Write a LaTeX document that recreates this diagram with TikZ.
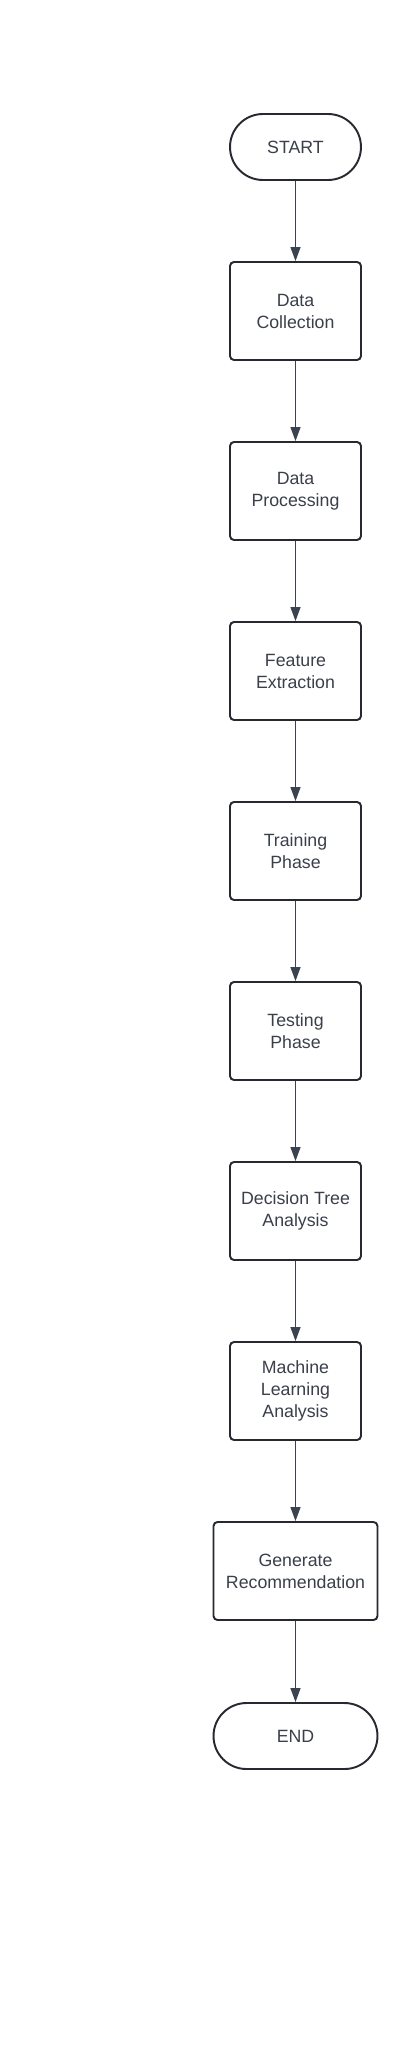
\documentclass[tikz,border=0pt]{standalone}
\usepackage{fontspec}
\setmainfont{Liberation Sans}
\usepackage{xcolor}
\usetikzlibrary{arrows.meta}

\definecolor{txtgray}{HTML}{3A3F4A}
\definecolor{edgegray}{HTML}{262A30}
\definecolor{linegray}{HTML}{3B4250}

\tikzset{
    stepbox/.style={draw=edgegray, line width=1.1pt, rounded corners=0.08cm,
        minimum width=2.62cm, minimum height=1.96cm, align=center,
        text=txtgray, font=\fontsize{10.1}{12.5}\selectfont, inner sep=0pt},
    widebox/.style={stepbox, minimum width=3.28cm},
    termbox/.style={stepbox, rounded corners=0.66cm, minimum height=1.32cm},
    flow/.style={draw=linegray, line width=0.7pt,
        -{Triangle[length=0.28cm, width=0.2cm]}}
}

\begin{document}
\begin{tikzpicture}[x=0.02cm, y=-0.02cm]
    \useasboundingbox[fill=white] (0,0) rectangle (410,2048);

    %% terminals
    \node[termbox] (start) at (295.5,147)  {START};
    \node[termbox, minimum width=3.28cm] (end) at (295.5,1736) {END};

    %% steps
    \node[stepbox] (collect)  at (295.5,311)  {Data\\Collection};
    \node[stepbox] (process)  at (295.5,491)  {Data\\Processing};
    \node[stepbox] (extract)  at (295.5,671)  {Feature\\Extraction};
    \node[stepbox] (train)    at (295.5,851)  {Training\\Phase};
    \node[stepbox] (test)     at (295.5,1031) {Testing\\Phase};
    \node[stepbox] (dtree)    at (295.5,1211) {Decision Tree\\Analysis};
    \node[stepbox] (mlearn)   at (295.5,1391) {Machine\\Learning\\Analysis};
    \node[widebox] (recomm)   at (295.5,1571) {Generate\\Recommendation};

    %% arrows
    \draw[flow] (start)   -- (collect);
    \draw[flow] (collect) -- (process);
    \draw[flow] (process) -- (extract);
    \draw[flow] (extract) -- (train);
    \draw[flow] (train)   -- (test);
    \draw[flow] (test)    -- (dtree);
    \draw[flow] (dtree)   -- (mlearn);
    \draw[flow] (mlearn)  -- (recomm);
    \draw[flow] (recomm)  -- (end);
\end{tikzpicture}
\end{document}
